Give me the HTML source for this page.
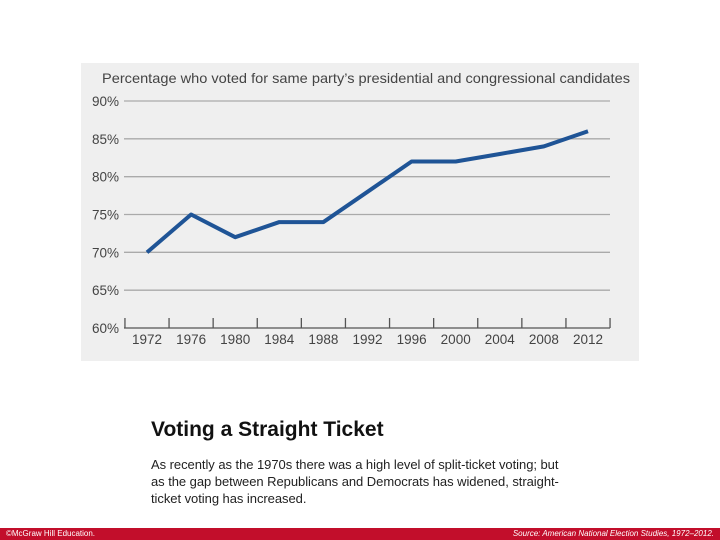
<!DOCTYPE html>
<html><head><meta charset="utf-8"><style>
body{margin:0;width:720px;height:540px;background:#fff;position:relative;overflow:hidden;font-family:"Liberation Sans",sans-serif}
.t{position:absolute}
</style></head><body>
<svg class="t" style="left:0;top:0" width="720" height="540">
<rect x="81" y="63" width="558" height="298" fill="#efefef"/>
<text x="102" y="83" font-size="14" fill="#444" textLength="528" lengthAdjust="spacingAndGlyphs">Percentage who voted for same party’s presidential and congressional candidates</text>
<g id="grid"></g><g id="xaxis"></g>
<path id="line" fill="none" stroke="#1f5496" stroke-width="4" stroke-linejoin="round"/>
</svg>
<div class="t" style="left:151px;top:418px;font-size:21px;font-weight:bold;color:#111">Voting a Straight Ticket</div>
<div class="t" style="left:151px;top:456px;width:450px;font-size:13px;line-height:17px;color:#222;letter-spacing:-0.05px">As recently as the 1970s there was a high level of split-ticket voting; but<br>as the gap between Republicans and Democrats has widened, straight-<br>ticket voting has increased.</div>
<div class="t" style="left:0;top:528px;width:720px;height:12px;background:#c20e2b">
<span class="t" style="left:6px;top:1px;font-size:8px;color:#fff">©McGraw Hill Education.</span>
<span class="t" style="right:6px;top:1px;font-size:8px;color:#fff;font-style:italic">Source: American National Election Studies, 1972–2012.</span>
</div>
<script>
const years=[1972,1976,1980,1984,1988,1992,1996,2000,2004,2008,2012];
const values=[70,75,72,74,74,78,82,82,83,84,86];
const yTicks=[60,65,70,75,80,85,90];
const NS="http://www.w3.org/2000/svg";
const x=v=>147+(v-1972)*(441/40);
const y=v=>328-(v-60)*(227/30);
const grid=document.getElementById('grid');
yTicks.forEach(t=>{
 if(t>60){const l=document.createElementNS(NS,'line');
 l.setAttribute('x1',124);l.setAttribute('x2',610);l.setAttribute('y1',y(t));l.setAttribute('y2',y(t));
 l.setAttribute('stroke','#aaa');l.setAttribute('stroke-width','1.3');
 
 
 grid.appendChild(l);}
 const tx=document.createElementNS(NS,'text');
 tx.setAttribute('x',119);tx.setAttribute('y',y(t)+5);tx.setAttribute('text-anchor','end');
 tx.setAttribute('font-size','13.5');tx.setAttribute('fill','#444');tx.textContent=t+'%';
 
 
 grid.appendChild(tx);
});
const xa=document.getElementById('xaxis');
const ax=document.createElementNS(NS,'line');
ax.setAttribute('x1',124);ax.setAttribute('x2',610);ax.setAttribute('y1',328);ax.setAttribute('y2',328);
ax.setAttribute('stroke','#555');ax.setAttribute('stroke-width','1.3');


xa.appendChild(ax);
for(let i=0;i<=years.length;i++){
 const tk=document.createElementNS(NS,'line');const px=x(1970+4*i);
 tk.setAttribute('x1',px);tk.setAttribute('x2',px);tk.setAttribute('y1',318);tk.setAttribute('y2',328);
 tk.setAttribute('stroke','#555');tk.setAttribute('stroke-width','1.3');
 
 
 xa.appendChild(tk);
}
years.forEach(yr=>{
 const tx=document.createElementNS(NS,'text');
 tx.setAttribute('x',x(yr));tx.setAttribute('y',344);tx.setAttribute('text-anchor','middle');
 tx.setAttribute('font-size','13.5');tx.setAttribute('fill','#444');tx.textContent=yr;
 
 
 xa.appendChild(tx);
});
document.getElementById('line').setAttribute('d',years.map((yr,i)=>(i?'L':'M')+x(yr)+','+y(values[i])).join(''));
</script>
</body></html>
